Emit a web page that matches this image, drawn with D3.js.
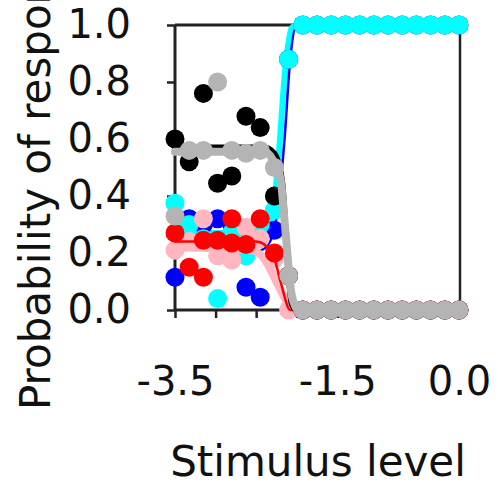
<!DOCTYPE html>
<html>
<head>
<meta charset="utf-8">
<script src="https://cdn.jsdelivr.net/npm/d3@7"></script>
<style>
  html, body { margin: 0; padding: 0; background: #fff; overflow: hidden; }
  text { font-family: "DejaVu Sans", sans-serif; fill: #111; }
</style>
</head>
<body>
<svg id="chart" width="498" height="482"></svg>
<script>
// Stimulus levels (log units) and axis ticks
const levels = [-3.5, -3.325, -3.15, -2.975, -2.8, -2.625, -2.45, -2.275, -2.1, -1.925, -1.75,
                -1.575, -1.4, -1.225, -1.05, -0.875, -0.7, -0.525, -0.35, -0.175, 0];
const xTicks = [-3.5, -3, -2.5, -2, -1.5, -1, -0.5, 0];
const xTickLabels = ["-3.5", "", "", "", "-1.5", "", "", "0.0"];
const yTicks = [0, 0.2, 0.4, 0.6, 0.8, 1.0];
const yTickLabels = ["0.0", "0.2", "0.4", "0.6", "0.8", "1.0"];

// Observed proportions per observer, one value per stimulus level
const bluePts  = [0.115, 0.32, 0.30, 0.32, 0.30, 0.08, 0.045, 0.28, 0.88, 1, 1, 1, 1, 1, 1, 1, 1, 1, 1, 1, 1];
const pinkPts  = [0.21, 0.24, 0.32, 0.19, 0.175, 0.29, 0.25, 0.18, 0, 0, 0, 0, 0, 0, 0, 0, 0, 0, 0, 0, 0];
const redPts   = [0.27, 0.15, 0.115, 0.245, 0.32, 0.23, 0.32, 0.20, 0.12, 0, 0, 0, 0, 0, 0, 0, 0, 0, 0, 0, 0];
const redRepeatPts = [null, null, 0.245, null, 0.235, null, null, null, null, null, null,
                      null, null, null, null, null, null, null, null, null, null];
const cyanPts  = [0.375, 0.30, 0.25, 0.04, 0.27, 0.19, 0.30, 0.35, 0.88, 1, 1, 1, 1, 1, 1, 1, 1, 1, 1, 1, 1];
const blackPts = [0.60, 0.52, 0.76, 0.445, 0.47, 0.68, 0.64, 0.40, 0.12, 0, 0, 0, 0, 0, 0, 0, 0, 0, 0, 0, 0];
const grayPts  = [0.33, 0.56, 0.56, 0.80, 0.56, 0.55, 0.56, 0.50, 0.12, 0, 0, 0, 0, 0, 0, 0, 0, 0, 0, 0, 0];

// Fitted psychometric curves, sampled as [level, probability]
const blueFit  = [[-3.5, 0.22], [-2.45, 0.21], [-2.33, 0.24], [-2.23, 0.36], [-2.15, 0.6], [-2.08, 0.88], [-2.0, 1], [0, 1]];
const pinkFit  = [[-3.5, 0.22], [-2.55, 0.21], [-2.4, 0.18], [-2.25, 0.1], [-2.1, 0.02], [-2.0, 0], [0, 0]];
const redFit   = [[-3.5, 0.24], [-2.5, 0.24], [-2.3, 0.2], [-2.2, 0.1], [-2.08, 0], [0, 0]];
const cyanFit  = [[-3.5, 0.27], [-2.4, 0.27], [-2.3, 0.33], [-2.22, 0.55], [-2.14, 0.85], [-2.06, 0.99], [-2.0, 1], [0, 1]];
const blackFit = [[-3.5, 0.57], [-2.4, 0.57], [-2.28, 0.55], [-2.18, 0.45], [-2.12, 0.2], [-2.06, 0.02], [-2.0, 0], [0, 0]];
const grayFit  = [[-3.5, 0.555], [-2.4, 0.555], [-2.3, 0.53], [-2.2, 0.46], [-2.14, 0.28], [-2.06, 0.05], [-1.98, 0], [0, 0]];

const CYAN = "#00ffff";
// Drawing order, back to front
const series = [
  { pts: bluePts,       fit: blueFit,  color: "#0000ff", width: 2.5 },
  { pts: cyanPts,       fit: null,     color: CYAN,      width: 0 },
  { pts: pinkPts,       fit: pinkFit,  color: "#ffb6c1", width: 8 },
  { pts: redPts,        fit: redFit,   color: "#ff0000", width: 2.5 },
  { pts: redRepeatPts,  fit: null,     color: "#ff0000", width: 0 },
  { pts: blackPts,      fit: blackFit, color: "#000000", width: 6 },
  { pts: grayPts,       fit: grayFit,  color: "#b4b4b4", width: 8 }
];

const svg = d3.select("#chart");
const x = d3.scaleLinear().domain([-3.5, 0]).range([175, 459]);
const y = d3.scaleLinear().domain([0, 1]).range([310, 25]);

// Frame
const frame = svg.append("g").attr("stroke", "#222").attr("fill", "none");
frame.append("line").attr("x1", x(-3.5)).attr("x2", x(-3.5)).attr("y1", y(1)).attr("y2", y(0)).attr("stroke-width", 3);
frame.append("line").attr("x1", x(-3.5)).attr("x2", x(0) + 1).attr("y1", y(0)).attr("y2", y(0)).attr("stroke-width", 3);
frame.append("line").attr("x1", x(-3.5)).attr("x2", x(0) + 1).attr("y1", y(1)).attr("y2", y(1)).attr("stroke-width", 3);
frame.append("line").attr("x1", x(0) + 1).attr("x2", x(0) + 1).attr("y1", y(1)).attr("y2", y(0)).attr("stroke-width", 2.5);

// Axes
const yAxis = d3.axisLeft(y).tickValues(yTicks).tickSize(8).tickPadding(36)
  .tickFormat((d, i) => yTickLabels[i]);
const gy = svg.append("g").attr("transform", `translate(${x(-3.5)},0)`).call(yAxis);
gy.select(".domain").remove();
gy.selectAll(".tick line").attr("stroke", "#222").attr("stroke-width", 2.5);
gy.selectAll(".tick text").attr("font-size", 40).attr("font-family", "DejaVu Sans").attr("fill", "#111");

const xAxis = d3.axisBottom(x).tickValues(xTicks).tickSize(8).tickPadding(49)
  .tickFormat((d, i) => xTickLabels[i]);
const gx = svg.append("g").attr("transform", `translate(0,${y(0)})`).call(xAxis);
gx.select(".domain").remove();
gx.selectAll(".tick line").attr("stroke", "#222").attr("stroke-width", 2.5);
gx.selectAll(".tick text").attr("font-size", 40).attr("font-family", "DejaVu Sans").attr("fill", "#111");

// Axis titles
svg.append("text").attr("x", 318).attr("y", 476).attr("text-anchor", "middle")
  .attr("font-size", 42).text("Stimulus level");
svg.append("text").attr("transform", "translate(50,410) rotate(-90)").attr("text-anchor", "start")
  .attr("font-size", 42).text("Probability of response");

// Curves and observations
const line = d3.line().x(d => x(d[0])).y(d => y(d[1])).curve(d3.curveMonotoneX);

// The cyan fit sits beneath the other observers' marks
svg.append("path").attr("d", line(cyanFit)).attr("fill", "none")
  .attr("stroke", CYAN).attr("stroke-width", 6)
  .attr("stroke-linejoin", "round").attr("stroke-linecap", "round");

series.forEach(s => {
  const g = svg.append("g");
  if (s.fit) {
    g.append("path").attr("d", line(s.fit)).attr("fill", "none")
      .attr("stroke", s.color).attr("stroke-width", s.width)
      .attr("stroke-linejoin", "round").attr("stroke-linecap", "round");
  }
  const obs = levels.map((lv, i) => [lv, s.pts[i]]).filter(d => d[1] !== null);
  g.selectAll("circle").data(obs).join("circle")
    .attr("cx", d => x(d[0])).attr("cy", d => y(d[1])).attr("r", 9.5)
    .attr("fill", s.color);
});
</script>
</body>
</html>
